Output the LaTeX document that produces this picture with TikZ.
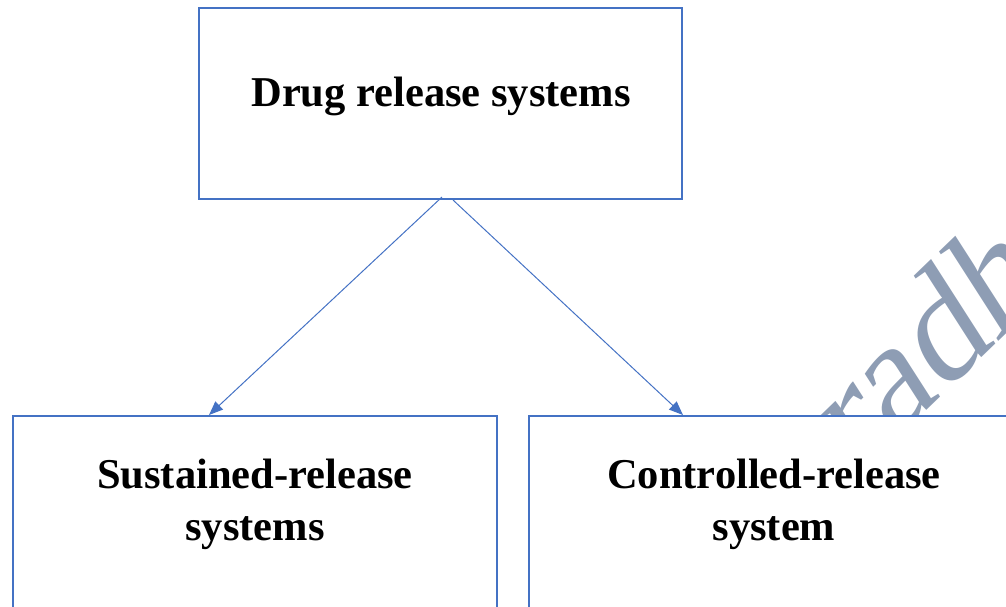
\documentclass[tikz,border=0pt]{standalone}
\usepackage{fontspec}
\setmainfont{Liberation Serif}
\usetikzlibrary{arrows.meta,calc}
\definecolor{boxblue}{HTML}{4472C4}
\definecolor{wmark}{HTML}{8E9DB4}
\begin{document}
\begin{tikzpicture}[x=1pt,y=-1pt,
  box/.style={draw=boxblue,line width=2pt,fill=white,rectangle,inner sep=0pt},
  boxtext/.style={font=\fontsize{42.5}{52}\selectfont\bfseries,align=center,inner sep=0pt},
  conn/.style={draw=boxblue,line width=1pt,-{Triangle[length=14pt,width=11pt]}},
  wm/.style={font=\fontsize{152}{152}\selectfont,text=wmark,inner sep=0pt}]
\useasboundingbox (0,0) rectangle (1006,607);
\clip (0,0) rectangle (1006,607);
\node[wm,rotate=44,xslant=0.2,anchor=base west] (wmtext) at (857,478) {radh};
\node[box,minimum width=483pt,minimum height=191pt] (top) at (440.5,103.5) {};
\node[box,minimum width=484pt,minimum height=200pt] (left) at (255,516) {};
\node[box,minimum width=484pt,minimum height=200pt] (right) at (771,516) {};
\node[boxtext,anchor=base] (toptext) at (441,107) {Drug release systems};
\node[boxtext] (lefttext) at (255,504) {Sustained-release\\systems};
\node[boxtext] (righttext) at (774,504) {Controlled-release\\system};
\draw[conn] ($(top.south)+(1.5,-3)$) -- ($(left.north)+(-46,0)$);
\draw[conn] ($(top.south)+(12.5,0)$) -- ($(right.north)+(-88,0)$);
\end{tikzpicture}
\end{document}
